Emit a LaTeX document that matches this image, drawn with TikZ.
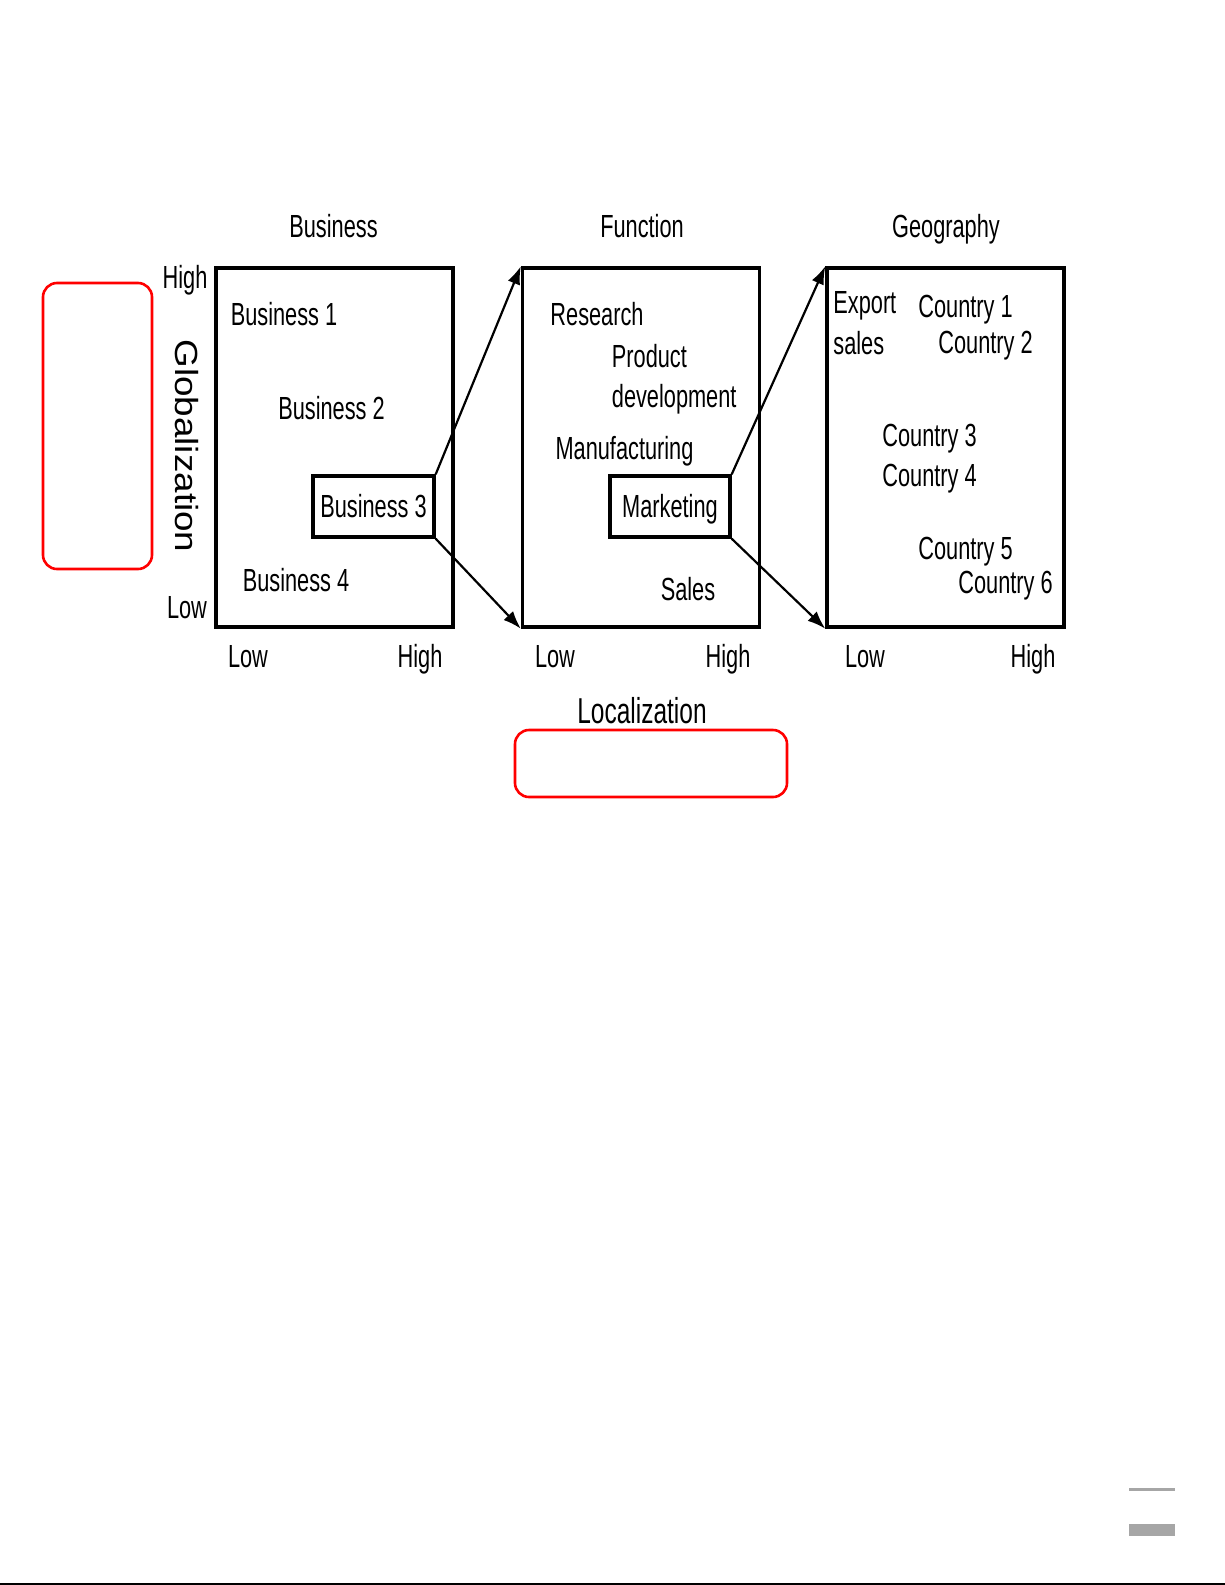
\documentclass[tikz,border=0pt]{standalone}
\usepackage{fontspec}
\setmainfont{Liberation Sans}[FakeStretch=0.68]
\newfontfamily\widefont{Liberation Sans}[FakeStretch=1.15]
\usetikzlibrary{arrows.meta}

\begin{document}
\begin{tikzpicture}[x=0.5pt,y=-0.5pt,
	lbl/.style={font=\fontsize{16}{19}\selectfont, inner sep=0pt, text height=11pt, text depth=0pt},
	panel/.style={draw, line width=1.7pt, minimum width=118.5pt, minimum height=179.5pt, inner sep=0pt},
	pick/.style={lbl, draw, line width=1.7pt, minimum width=60.5pt, minimum height=30.5pt},
	zoomarr/.style={line width=1.1pt, -{Latex[length=9pt,width=6.5pt]}},
	redbox/.style={draw=red, line width=1.3pt, rounded corners=7pt}]
	
	\useasboundingbox (0,0) rectangle (1225,1585);
	
	% Three panels
	\node[panel] (bizbox) at (334.5,447.5) {};
	\node[panel] (funcbox) at (641,447.5) {};
	\node[panel] (geobox) at (945.5,447.5) {};
	
	% Panel titles
	\node[lbl] (biztitle) at (333.5,226) {Business};
	\node[lbl] (functitle) at (642,226) {Function};
	\node[lbl] (geotitle) at (946,226) {Geography};
	
	% Globalization axis
	\node[lbl] (ghigh) at (185,277) {High};
	\node[lbl] (glow) at (187,607) {Low};
	\node[inner sep=0pt, rotate=-90, font=\widefont\fontsize{16}{19}\selectfont] (glob) at (187,446) {Globalization};
	
	% Business panel
	\node[lbl] (biz1) at (284,314) {Business 1};
	\node[lbl] (biz2) at (331.5,408) {Business 2};
	\node[pick] (biz3) at (373.5,506.5) {Business 3};
	\node[lbl] (biz4) at (296,580) {Business 4};
	
	% Function panel
	\node[lbl] (research) at (597,314) {Research};
	\node[lbl, anchor=west] (product) at (611.5,356) {Product};
	\node[lbl, anchor=west] (develop) at (611.5,396) {development};
	\node[lbl] (manuf) at (624.5,448) {Manufacturing};
	\node[pick, minimum width=60pt] (mkt) at (670,506.5) {Marketing};
	\node[lbl] (sales) at (688,589) {Sales};
	
	% Geography panel
	\node[lbl, anchor=west] (export) at (833,302) {Export};
	\node[lbl, anchor=west] (exsales) at (833,343) {sales};
	\node[lbl, anchor=west] (ctry1) at (918,306) {Country 1};
	\node[lbl, anchor=west] (ctry2) at (938,342) {Country 2};
	\node[lbl, anchor=west] (ctry3) at (882,435) {Country 3};
	\node[lbl, anchor=west] (ctry4) at (882,475) {Country 4};
	\node[lbl, anchor=west] (ctry5) at (918,548) {Country 5};
	\node[lbl, anchor=west] (ctry6) at (958,582) {Country 6};
	
	% Localization axis
	\node[lbl] (blow) at (248,656) {Low};
	\node[lbl] (bhigh) at (420,656) {High};
	\node[lbl] (flow) at (555,656) {Low};
	\node[lbl] (fhigh) at (728,656) {High};
	\node[lbl] (glow2) at (865,656) {Low};
	\node[lbl] (ghigh2) at (1033,656) {High};
	\node[lbl, font=\fontsize{18}{21}\selectfont, text height=12.5pt] (local) at (642,711) {Localization};
	
	% Zoom arrows
	\draw[zoomarr] (biz3.north east) -- (funcbox.north west);
	\draw[zoomarr] (biz3.south east) -- (funcbox.south west);
	\draw[zoomarr] (mkt.north east) -- (geobox.north west);
	\draw[zoomarr] (mkt.south east) -- (geobox.south west);
	
	% Red marks
	\draw[redbox] (43,283) rectangle (152,569);
	\draw[redbox] (515,730) rectangle (787,797);
	
	% Page furniture
	\fill[gray!70] (1129,1488) rectangle (1175,1491);
	\fill[gray!70] (1129,1524) rectangle (1175,1536);
	\draw[line width=1pt] (0,1584) -- (1225,1584);
	
\end{tikzpicture}
\end{document}
